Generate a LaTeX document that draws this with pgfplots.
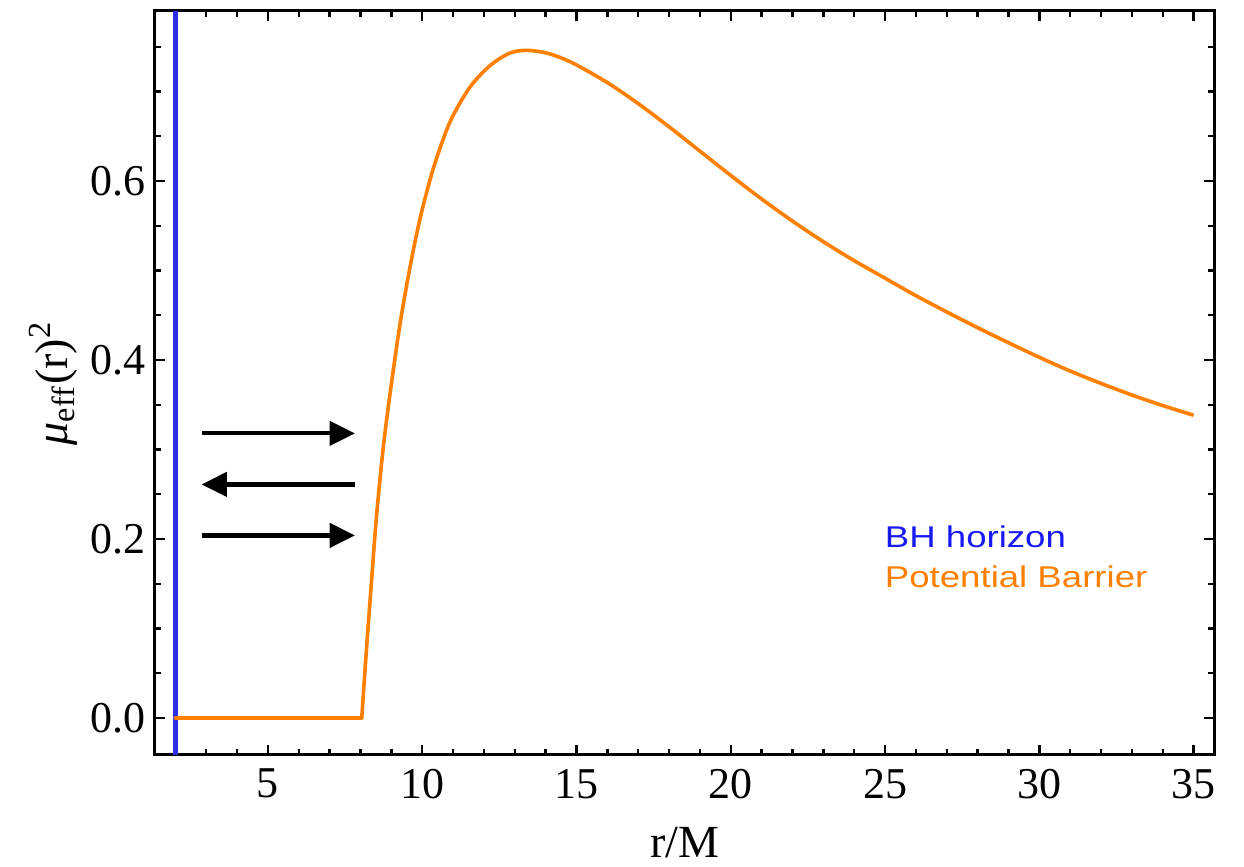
\documentclass[border=0pt]{standalone}
\usepackage{pgfplots}
\pgfplotsset{compat=1.18}
\usetikzlibrary{arrows.meta}
\usepackage{fontspec}
\setmainfont{Liberation Serif}
\newfontfamily\legfont[FakeStretch=1.22]{Liberation Sans}
\definecolor{mblue}{RGB}{45,45,228}
\definecolor{mblueT}{RGB}{25,25,245}
\definecolor{morange}{RGB}{255,127,0}
\begin{document}
\begin{tikzpicture}
\begin{axis}[
  scale only axis,
  width=264.75bp, height=186bp,
  xmin=1.34, xmax=35.66,
  ymin=-0.0413, ymax=0.79,
  axis line style={line width=0.75bp},
  tick align=inside,
  xtick={5,10,15,20,25,30,35},
  xticklabels={5,10,15,20,25,30,35},
  minor xtick={2,...,35},
  ytick={0,0.2,0.4,0.6},
  yticklabels={0.0,0.2,0.4,0.6},
  minor ytick={0,0.05,0.1,0.15,0.2,0.25,0.3,0.35,0.4,0.45,0.5,0.55,0.6,0.65,0.7,0.75},
  major tick length=2.6bp,
  minor tick length=1.5bp,
  every tick/.style={black, line width=0.6bp},
  tick label style={font=\fontsize{11bp}{13bp}\selectfont},
  yticklabel style={xshift=1.2bp},
  label style={font=\fontsize{11.5bp}{13bp}\selectfont},
  xlabel={r/M},
  xlabel style={at={(axis description cs:0.5,0)}, anchor=base, yshift=-25.75bp},
  ylabel={{\itshape μ}\textsubscript{eff}(r)\textsuperscript{2}},
  ylabel style={at={(axis description cs:0,0.5)}, anchor=center, yshift=25.5bp},
  clip=true,
]
% BH horizon
\addplot[mblue, line width=1.15bp] coordinates {(2,-0.0413) (2,0.79)};
% potential barrier: flat part
\addplot[morange, line width=0.9bp, line cap=round] coordinates {(2,0) (8.04,0)};
% potential barrier: curve
\addplot[morange, line width=0.9bp, smooth, line join=round] coordinates {
(8.04,0) (8.20,0.080) (8.36,0.154) (8.52,0.226) (8.74,0.303) (8.98,0.368)
(9.28,0.440) (9.60,0.503) (9.93,0.558) (10.36,0.614) (10.90,0.666) (11.55,0.705)
(12.20,0.729) (12.84,0.743) (13.4,0.746) (14.0,0.7433) (14.5,0.7376) (15,0.7297)
(16,0.7100) (17,0.6865) (18,0.6606) (19,0.6334) (20,0.6062) (21,0.5799) (22,0.5552)
(23,0.5322) (24,0.5110) (25,0.4914) (26,0.4719) (27,0.4537) (28,0.4361)
(29,0.4193) (30,0.4030) (31,0.3877) (32,0.3738) (33,0.3609) (34,0.3491) (35,0.3383)
};
% arrows
\addplot[black, line width=1.05bp, -{Triangle[length=6.3bp,width=6bp]}] coordinates {(2.85,0.318) (7.82,0.318)};
\addplot[black, line width=1.05bp, -{Triangle[length=6.3bp,width=6bp]}] coordinates {(7.82,0.261) (2.85,0.261)};
\addplot[black, line width=1.05bp, -{Triangle[length=6.3bp,width=6bp]}] coordinates {(2.85,0.204) (7.82,0.204)};
% legend text
\node[anchor=base west, inner sep=0pt, text=mblueT, font=\legfont\fontsize{7.5bp}{9bp}\selectfont] at (axis cs:24.97,0.191) {BH horizon};
\node[anchor=base west, inner sep=0pt, text=morange, font=\legfont\fontsize{7.5bp}{9bp}\selectfont] at (axis cs:24.97,0.146) {Potential Barrier};
\end{axis}
\pgfresetboundingbox
\path[use as bounding box] ([shift={(-38.75bp,-28bp)}]current axis.south west) rectangle ([shift={(7.5bp,2.75bp)}]current axis.north east);
\end{tikzpicture}
\end{document}
